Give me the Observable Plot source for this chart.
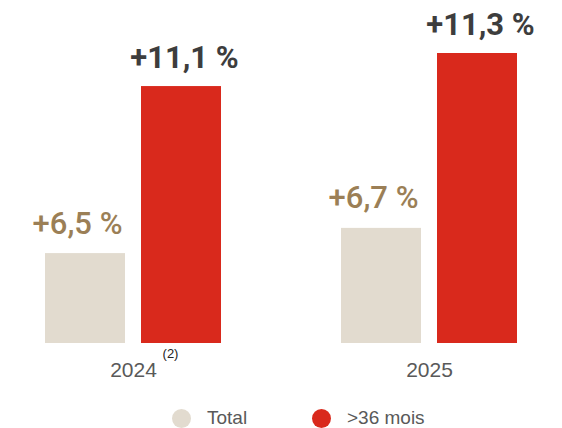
<!DOCTYPE html>
<html>
<head>
<meta charset="utf-8">
<script src="https://cdn.jsdelivr.net/npm/d3@7"></script>
<script src="https://cdn.jsdelivr.net/npm/@observablehq/plot@0.6"></script>
<style>
  html, body { margin: 0; padding: 0; background: #fff; }
  #chart svg { display: block; }
  .legend { position: relative; height: 28px; width: 562px; font-family: "Liberation Sans", Arial, sans-serif; font-size: 19px; color: #595959; }
  .item { position: absolute; top: 0; height: 36px; display: flex; align-items: center; }
  .dot { width: 19px; height: 19px; border-radius: 50%; margin-right: 16px; }
</style>
</head>
<body>
<div id="chart"></div>
<div class="legend" id="legend"></div>
<script>
const years = ["2024", "2025"];
const series = ["Total", ">36 mois"];
const growthTotal = [6.5, 6.7];
const growthOver36 = [11.1, 11.3];
// relative bar heights (2025 ">36 mois" = 100)
const barTotal = [31, 39.7];
const barOver36 = [88.6, 100];
const colors = ["#e2dbcf", "#d9291c"];
const labelColors = ["#9b7f56", "#3d3d3d"];

const data = [];
years.forEach((y, i) => {
  data.push({year: y, series: series[0], bar: barTotal[i], growth: growthTotal[i]});
  data.push({year: y, series: series[1], bar: barOver36[i], growth: growthOver36[i]});
});
const fmt = v => "+" + v.toFixed(1).replace(".", ",") + "\u00a0%";

const chart = Plot.plot({
  width: 562,
  height: 400,
  marginLeft: 45,
  marginRight: 45,
  marginTop: 53,
  marginBottom: 57,
  style: {fontFamily: "'Liberation Sans', Arial, sans-serif", background: "#fff"},
  fx: {domain: years, paddingInner: 120 / 296, paddingOuter: 0, axis: null},
  x: {domain: series, paddingInner: 16 / 96, paddingOuter: 0, axis: null},
  y: {domain: [0, 100], axis: null},
  color: {domain: series, range: colors},
  marks: [
    Plot.barY(data, {fx: "year", x: "series", y: "bar", fill: "series"}),
    Plot.text(data.filter(d => d.series === series[0]), {
      fx: "year", x: "series", y: "bar", text: d => fmt(d.growth),
      lineAnchor: "bottom", dy: -20, dx: -8,
      fill: labelColors[0], fontSize: 31, fontWeight: 500,
      fontFamily: "Roboto, sans-serif"
    }),
    Plot.text(data.filter(d => d.series === series[1]), {
      fx: "year", x: "series", y: "bar", text: d => fmt(d.growth),
      lineAnchor: "bottom", dy: -19, dx: 3,
      fill: labelColors[1], fontSize: 31, fontWeight: "bold",
      fontFamily: "Roboto, sans-serif"
    }),
    Plot.text(years, {
      fx: d => d, text: d => d, frameAnchor: "bottom", lineAnchor: "bottom",
      dy: 33, fontSize: 21, fill: "#595959"
    }),
    Plot.text([years[0]], {
      fx: d => d, text: () => "(2)", frameAnchor: "bottom", lineAnchor: "bottom",
      dy: 14, dx: 37, fontSize: 13, fill: "#222"
    })
  ]
});
document.getElementById("chart").appendChild(chart);

const legend = document.getElementById("legend");
const lefts = [172, 312];
series.forEach((s, i) => {
  const item = document.createElement("div");
  item.className = "item";
  item.style.left = lefts[i] + "px";
  const dot = document.createElement("span");
  dot.className = "dot";
  dot.style.background = colors[i];
  const label = document.createElement("span");
  label.textContent = s;
  item.appendChild(dot);
  item.appendChild(label);
  legend.appendChild(item);
});
</script>
</body>
</html>
